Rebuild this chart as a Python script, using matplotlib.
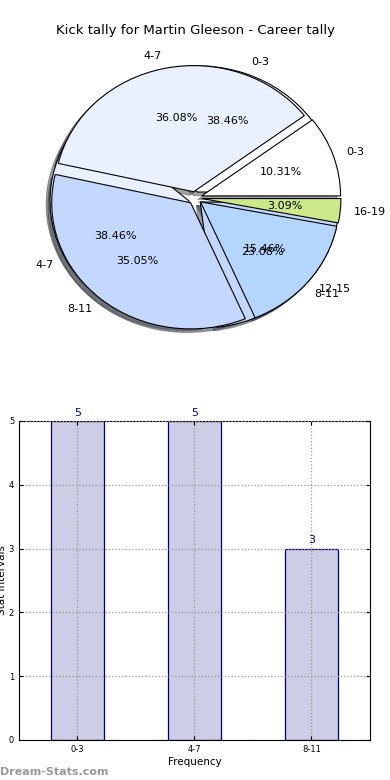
import matplotlib
matplotlib.use("Agg")
import matplotlib.pyplot as plt

# data
bins_a = ['0-3', '4-7', '8-11']
counts_a = [5, 5, 3]
bins_b = ['0-3', '4-7', '8-11', '12-15', '16-19']
counts_b = [10, 35, 34, 15, 3]

colors_a = ['#ffffff', '#eaf1fe', '#c4d8fe']
colors_b = ['#ffffff', '#eaf1fe', '#c4d8fe', '#b4d6fe', '#cce98a']

fig = plt.figure(figsize=(3.9, 7.8), dpi=100)
fig.text(0.5, 0.9615, 'Kick tally for Martin Gleeson - Career tally',
         ha='center', va='center', fontsize=9.5)

# PIE -- two overlapping pies, stretched like the original
ax1 = fig.add_axes([0.0372, 0.536, 0.926, 0.4205])
wp = dict(edgecolor='black', linewidth=0.8)
ax1.pie(counts_a, labels=bins_a, colors=colors_a, autopct='%1.2f%%',
        explode=[0.05] * len(counts_a), shadow=True, wedgeprops=wp,
        textprops=dict(fontsize=8))
ax1.pie(counts_b, labels=bins_b, colors=colors_b, autopct='%1.2f%%',
        explode=[0.05] * len(counts_b), shadow=True, wedgeprops=wp,
        textprops=dict(fontsize=8))
ax1.set_aspect('auto')
ax1.set_xlim(-1.3, 1.3)
ax1.set_ylim(-1.3, 1.3)
ax1.axis('off')

# BAR
ax2 = fig.add_axes([0.0487, 0.0513, 0.9, 0.409])
xs = range(len(bins_a))
ax2.bar(xs, counts_a, width=0.45, color='#cdcde5', edgecolor='#000080', linewidth=0.9, zorder=1)
for x, c in zip(xs, counts_a):
    ax2.text(x, c + 0.05, str(c), ha='center', va='bottom', color='#000080', fontsize=8)
ax2.set_xlim(-0.5, 2.5)
ax2.set_ylim(0, 5)
ax2.set_xticks(list(xs))
ax2.set_xticklabels(bins_a)
ax2.set_yticks(range(6))
ax2.tick_params(labelsize=6, direction='in', top=True, right=True, length=3)
ax2.set_axisbelow(False)
ax2.grid(True, linestyle=':', color='#999999', linewidth=0.9)
ax2.set_xlabel('Frequency', fontsize=7.5, labelpad=2)
ax2.set_ylabel('Stat Intervals', fontsize=7.5, labelpad=1)
ax2.yaxis.set_label_coords(-0.035, 0.5)

fig.text(0.0, 0.004, 'Dream-Stats.com', color='#999999', fontsize=8,
         fontweight='bold', ha='left', va='bottom')

fig.savefig('out.png', dpi=100)
